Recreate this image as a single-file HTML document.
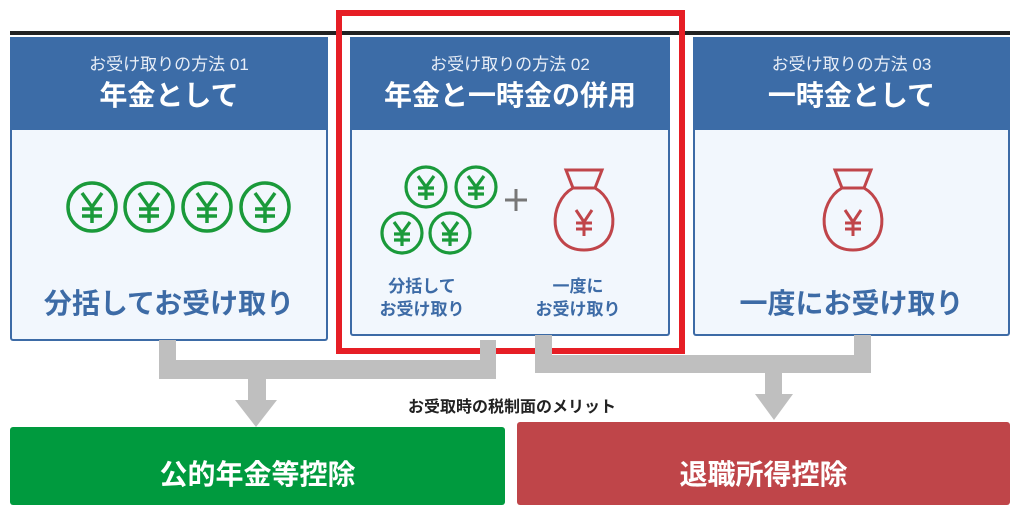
<!DOCTYPE html>
<html><head><meta charset="utf-8"><style>
body{margin:0;width:1024px;height:530px;background:#fff;position:relative;overflow:hidden;font-family:"Liberation Sans","Noto Sans CJK JP",sans-serif}
.abs{position:absolute}
.box{position:absolute;top:37px;background:#f2f7fd;border:2px solid #3d6ba6;border-top:none;box-sizing:border-box;border-radius:3px}
.hd{position:absolute;left:-2px;right:-2px;top:0;height:93px;background:#3c6ca7;color:#fff;text-align:center}
.sub{font-size:17px;margin-top:17px;line-height:22px;color:#e8eef7}
.ttl{font-size:28px;font-weight:bold;line-height:40px}
.lbl{position:absolute;left:0;right:0;text-align:center;color:#3d6ba6;font-weight:bold}
.g{background:#bfbfbf;position:absolute}
</style></head><body>
<div class="abs" style="left:10px;top:31px;width:1000px;height:4px;background:#222"></div>

<div class="box" style="left:10px;width:318px;height:304px">
 <div class="hd"><div class="sub">お受け取りの方法 01</div><div class="ttl">年金として</div></div>
 <svg class="abs" style="left:42px;top:140px" width="240" height="65">
  <g fill="none" stroke="#1a9a3a" stroke-width="3.5">
   <circle cx="38" cy="30" r="24"/><circle cx="95" cy="30" r="24"/><circle cx="153" cy="30" r="24"/><circle cx="211" cy="30" r="24"/>
   <path d="M28 16L38 30L48 16M38 30V46M28 32H48M28 39H48"/>
   <path d="M85 16L95 30L105 16M95 30V46M85 32H105M85 39H105"/>
   <path d="M143 16L153 30L163 16M153 30V46M143 32H163M143 39H163"/>
   <path d="M201 16L211 30L221 16M211 30V46M201 32H221M201 39H221"/>
  </g>
 </svg>
 <div class="lbl" style="top:245px;font-size:28px">分括してお受け取り</div>
</div>

<div class="box" style="left:350px;width:320px;height:299px">
 <div class="hd"><div class="sub">お受け取りの方法 02</div><div class="ttl">年金と一時金の併用</div></div>
 <svg class="abs" style="left:25px;top:118px" width="175" height="105">
  <g fill="none" stroke="#1a9a3a" stroke-width="3.2">
   <circle cx="49" cy="32" r="20"/><circle cx="99" cy="32" r="20"/><circle cx="25" cy="78" r="20"/><circle cx="73" cy="78" r="20"/>
   <path d="M41 21L49 32L57 21M49 32V45M41 33H57M41 39H57"/>
   <path d="M91 21L99 32L107 21M99 32V45M91 33H107M91 39H107"/>
   <path d="M17 67L25 78L33 67M25 78V91M17 79H33M17 85H33"/>
   <path d="M65 67L73 78L81 67M73 78V91M65 79H81M65 85H81"/>
  </g>
  <path d="M128 92h22M139 81v22" stroke="#777" stroke-width="3" transform="translate(0,-47)"/>
 </svg>
 <svg class="abs" style="left:200px;top:131px" width="66" height="86">
  <g fill="none" stroke="#c0454a" stroke-width="3"><path d="M14 2H50L43 20H21Z"/><path d="M21 20C-4 34 -5 82 32 82C69 82 68 34 43 20"/>
  <path d="M24 42L32 54L40 42M32 54V68M24 55H40M24 61H40"/></g>
 </svg>
 <div class="lbl" style="top:238px;left:10px;right:auto;width:120px;font-size:17px;line-height:23px">分括して<br>お受け取り</div>
 <div class="lbl" style="top:238px;left:170px;right:auto;width:112px;font-size:17px;line-height:23px">一度に<br>お受け取り</div>
</div>

<div class="box" style="left:693px;width:317px;height:299px">
 <div class="hd"><div class="sub">お受け取りの方法 03</div><div class="ttl">一時金として</div></div>
 <svg class="abs" style="left:126px;top:131px" width="66" height="86">
  <g fill="none" stroke="#c0454a" stroke-width="3"><path d="M14 2H50L43 20H21Z"/><path d="M21 20C-4 34 -5 82 32 82C69 82 68 34 43 20"/>
  <path d="M24 42L32 54L40 42M32 54V68M24 55H40M24 61H40"/></g>
 </svg>
 <div class="lbl" style="top:245px;font-size:28px">一度にお受け取り</div>
</div>

<div class="abs" style="left:336px;top:10px;width:349px;height:344px;border:6px solid #e61e25;box-sizing:border-box"></div>

<div class="g" style="left:159px;top:340px;width:17px;height:39px"></div>
<div class="g" style="left:480px;top:340px;width:16px;height:39px"></div>
<div class="g" style="left:159px;top:360px;width:337px;height:19px"></div>
<div class="g" style="left:248px;top:379px;width:18px;height:22px"></div>
<svg class="abs" style="left:235px;top:400px" width="42" height="27"><path d="M0 0h42L21 27z" fill="#bfbfbf"/></svg>

<div class="g" style="left:535px;top:335px;width:17px;height:38px"></div>
<div class="g" style="left:854px;top:335px;width:17px;height:38px"></div>
<div class="g" style="left:535px;top:355px;width:336px;height:18px"></div>
<div class="g" style="left:765px;top:373px;width:17px;height:22px"></div>
<svg class="abs" style="left:755px;top:394px" width="38" height="26"><path d="M0 0h38L19 26z" fill="#bfbfbf"/></svg>

<div class="abs" style="left:0;width:1024px;top:393px;text-align:center;font-size:16px;font-weight:bold;color:#222">お受取時の税制面のメリット</div>

<div class="abs" style="left:10px;top:427px;width:495px;height:78px;background:#009a3e;border-radius:3px;color:#fff;font-size:28px;font-weight:bold;text-align:center;line-height:96px">公的年金等控除</div>
<div class="abs" style="left:517px;top:422px;width:493px;height:83px;background:#bf4549;border-radius:3px;color:#fff;font-size:28px;font-weight:bold;text-align:center;line-height:106px">退職所得控除</div>
</body></html>
